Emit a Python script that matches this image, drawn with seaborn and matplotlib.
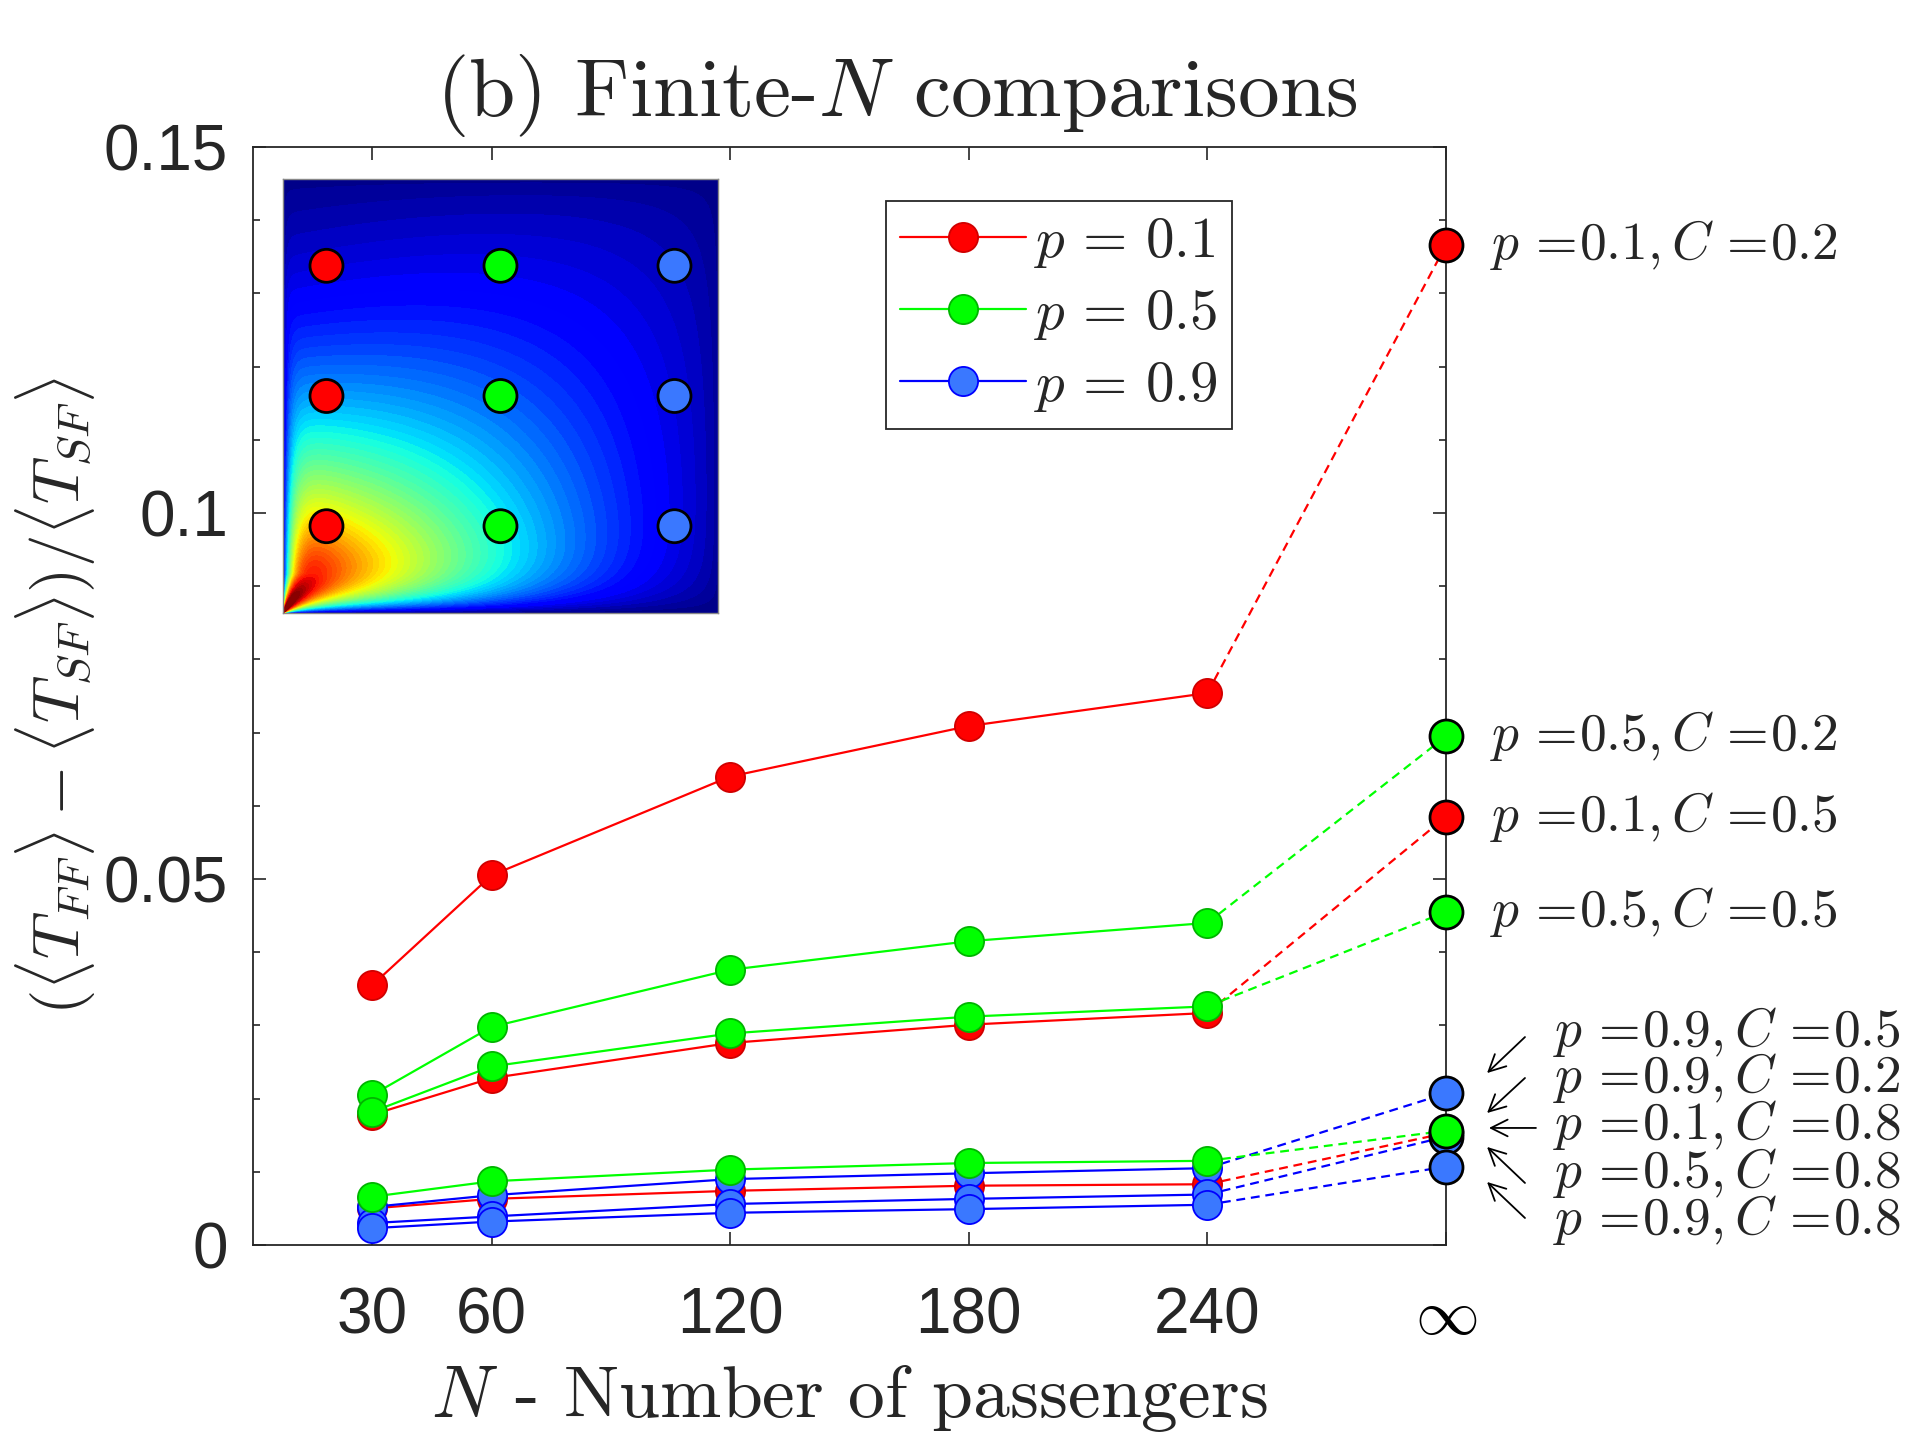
import numpy as np
import pandas as pd
import matplotlib
matplotlib.use("Agg")
import matplotlib.pyplot as plt
import seaborn as sns
from matplotlib.lines import Line2D
from matplotlib.ticker import MultipleLocator, FixedLocator

# ---------------- data ----------------
N_finite = [30, 60, 120, 180, 240]
N_inf_pos = 300                      # axis position used for N -> infinity
N_tick_labels = ['30', '60', '120', '180', '240', r'$\infty$']
p_values = [0.1, 0.5, 0.9]
C_values = [0.2, 0.5, 0.8]

# values at N = 30, 60, 120, 180, 240 and N -> infinity
p01_C02 = [0.0355, 0.0505, 0.0640, 0.0709, 0.0754, 0.1366]
p01_C05 = [0.0178, 0.0228, 0.0276, 0.0301, 0.0317, 0.0585]
p01_C08 = [0.0050, 0.0063, 0.0074, 0.0081, 0.0083, 0.0153]
p05_C02 = [0.0205, 0.0298, 0.0376, 0.0415, 0.0440, 0.0695]
p05_C05 = [0.0182, 0.0244, 0.0289, 0.0312, 0.0326, 0.0455]
p05_C08 = [0.0066, 0.0087, 0.0103, 0.0112, 0.0115, 0.0156]
p09_C02 = [0.0052, 0.0068, 0.0090, 0.0098, 0.0105, 0.0207]
p09_C05 = [0.0030, 0.0039, 0.0056, 0.0063, 0.0069, 0.0148]
p09_C08 = [0.0023, 0.0032, 0.0044, 0.0049, 0.0055, 0.0107]

# inset colour map: levels (0..1 of the jet scale) at (p, C)
inset_p = [0.1, 0.5, 0.9, 0.1, 0.5, 0.9, 0.1, 0.5, 0.9,
           0.04, 0.06, 0.08, 0.15, 0.18, 0.25, 0.32, 0.4, 0.1, 0.1, 0.1,
           0.3, 0.7, 0.3, 0.7, 0.2, 0.4, 0.6, 0.5, 0.95, 0.95]
inset_C = [0.2, 0.2, 0.2, 0.5, 0.5, 0.5, 0.8, 0.8, 0.8,
           0.07, 0.10, 0.14, 0.10, 0.2, 0.2, 0.2, 0.2, 0.27, 0.33, 0.4,
           0.35, 0.35, 0.65, 0.65, 0.4, 0.1, 0.1, 0.95, 0.5, 0.95]
inset_level = [0.68, 0.35, 0.10, 0.29, 0.23, 0.074, 0.077, 0.078, 0.053,
               1.0, 0.93, 0.86, 0.78, 0.62, 0.52, 0.44, 0.39, 0.6, 0.5, 0.39,
               0.37, 0.24, 0.2, 0.15, 0.36, 0.42, 0.32, 0.04, 0.05, 0.02]

series = {
    (0.1, 0.2): p01_C02, (0.1, 0.5): p01_C05, (0.1, 0.8): p01_C08,
    (0.5, 0.2): p05_C02, (0.5, 0.5): p05_C05, (0.5, 0.8): p05_C08,
    (0.9, 0.2): p09_C02, (0.9, 0.5): p09_C05, (0.9, 0.8): p09_C08,
}
N_all = N_finite + [N_inf_pos]
rows = []
for (p, C), vals in series.items():
    for n, v in zip(N_all, vals):
        rows.append(dict(N=n, value=v, p=p, C=C))
df = pd.DataFrame(rows)

line_color = {0.1: '#FF0000', 0.5: '#00FF00', 0.9: '#0000FF'}
face_color = {0.1: '#FF0000', 0.5: '#00FF00', 0.9: '#3A78FF'}
edge_color = {0.1: '#D00000', 0.5: '#00B400', 0.9: '#0000FF'}

# ---------------- style ----------------
sns.set_theme(style='ticks')
plt.rcParams['font.family'] = ['Liberation Sans', 'DejaVu Sans']
plt.rcParams['mathtext.fontset'] = 'cm'
plt.rcParams['axes.unicode_minus'] = False
dark = '#262626'

fig = plt.figure(figsize=(19.25, 14.44), dpi=100)
ax = fig.add_axes([0.13143, 0.13781, 0.61974, 0.76039])

order = [0.1, 0.9, 0.5]
for k, p in enumerate(order):
    sub = df[(df.p == p) & (df.N < N_inf_pos)]
    sns.lineplot(data=sub, x='N', y='value', units='C', estimator=None,
                 color=line_color[p], marker='o', markersize=21,
                 markerfacecolor=face_color[p], markeredgecolor=edge_color[p],
                 markeredgewidth=1.3, linewidth=1.6, ax=ax, legend=False,
                 zorder=3 + 0.1 * k)
    sub2 = df[(df.p == p) & (df.N >= N_finite[-1])]
    sns.lineplot(data=sub2, x='N', y='value', units='C', estimator=None,
                 color=line_color[p], linestyle=(0, (4, 2.6)), linewidth=1.6,
                 ax=ax, legend=False, zorder=2.5)
for k, p in enumerate(order):
    sub3 = df[(df.p == p) & (df.N == N_inf_pos)]
    sns.scatterplot(data=sub3, x='N', y='value', color=face_color[p],
                    edgecolor='black', linewidth=2.0, s=33 ** 2 * 0.5184,
                    ax=ax, legend=False, zorder=6 + 0.1 * k, clip_on=False)

ax.set_xlim(0, N_inf_pos)
ax.set_ylim(0, 0.15)
ax.xaxis.set_major_locator(FixedLocator(N_all))
ax.set_xticklabels(N_tick_labels)
ax.yaxis.set_major_locator(FixedLocator([0, 0.05, 0.1, 0.15]))
ax.set_yticklabels(['0', '0.05', '0.1', '0.15'])
ax.yaxis.set_minor_locator(MultipleLocator(0.01))
ax.tick_params(axis='both', which='both', direction='in', top=True, right=True,
               color=dark, labelcolor=dark, width=1.2)
ax.tick_params(axis='both', which='major', length=9.5, labelsize=46)
ax.tick_params(axis='y', which='major', pad=18)
ax.tick_params(axis='x', which='major', pad=30)
ax.tick_params(axis='y', which='minor', length=5)
for t in ax.get_xticklabels()[-1:]:
    t.set_fontsize(46)
    t.set_color('black')
for s in ax.spines.values():
    s.set_color(dark)
    s.set_linewidth(1.3)
    s.set_visible(True)

ax.set_xlabel(r'$N$ - Number of passengers', family=['cmr10', 'DejaVu Sans'],
              fontsize=53, labelpad=12)
ax.set_ylabel(r'$(\langle T_{FF}\rangle-\langle T_{SF}\rangle)/\langle T_{SF}\rangle$',
              fontsize=47, labelpad=4)
fig.text(0.466, 0.920, r'(b) Finite-$N$ comparisons', family=['cmr10', 'DejaVu Sans'],
         fontsize=60, ha='center', va='baseline')

# legend
handles = [Line2D([], [], color=line_color[p], marker='o', markersize=21,
                  markerfacecolor=face_color[p], markeredgecolor=edge_color[p],
                  markeredgewidth=1.3, linewidth=1.6) for p in p_values]
labels = [rf'$p\,=\,{p}$' for p in p_values]
leg = ax.legend(handles, labels, loc='upper left', bbox_to_anchor=(0.5306, 0.9508),
                borderaxespad=0, fontsize=41, handlelength=2.2, handletextpad=0.15,
                labelspacing=0.3, borderpad=0.25, fancybox=False, framealpha=1,
                edgecolor=dark)
leg.get_frame().set_linewidth(1.3)

# labels at N -> infinity
lab_fs = 38.5
for (p, C) in [(0.1, 0.2), (0.5, 0.2), (0.1, 0.5), (0.5, 0.5)]:
    ax.annotate(rf'$p\,=\!{p},C\,=\!{C}$', xy=(N_inf_pos, series[(p, C)][-1]),
                xytext=(44, 0), textcoords='offset pixels', fontsize=lab_fs,
                va='center', ha='left', annotation_clip=False)

low_labels = [(0.9, 0.5), (0.9, 0.2), (0.1, 0.8), (0.5, 0.8), (0.9, 0.8)]
low_y = [0.194, 0.152, 0.109, 0.0656, 0.0228]
for (p, C), y in zip(low_labels, low_y):
    ax.text(1.0895, y, rf'$p\,=\!{p},C\,=\!{C}$', transform=ax.transAxes,
            fontsize=lab_fs, va='center', ha='left')
arrows = [((1.0662, 0.1894), (1.0344, 0.1566)),
          ((1.0662, 0.1521), (1.0344, 0.1202)),
          ((1.0754, 0.1066), (1.0360, 0.1066)),
          ((1.0662, 0.0565), (1.0344, 0.0893)),
          ((1.0662, 0.0246), (1.0344, 0.0574))]
for tail, head in arrows:
    ax.annotate('', xy=head, xytext=tail, xycoords='axes fraction',
                textcoords='axes fraction', annotation_clip=False,
                arrowprops=dict(arrowstyle='->', color='black', lw=1.3,
                                mutation_scale=30, shrinkA=0, shrinkB=0))

# ---------------- inset map over (p, C) ----------------
def edge_factor(P, C):
    w1 = 0.05 * (1 - np.exp(-P / 0.07)) + 0.01 * P + 1e-9
    w2 = np.minimum(0.28 * C, np.maximum(0.028 - 0.03 * C, 0.006)) + 1e-9
    return (1 - np.exp(-C / w1)) * (1 - np.exp(-P / w2))

def basis(P, C):
    return np.stack([np.ones_like(P), P, C, P ** 2, C ** 2, P * C], axis=-1)

ip = np.array(inset_p)
ic = np.array(inset_C)
il = np.array(inset_level)
ALPHA, BETA = 0.35, 0.45
target = (np.log(il / edge_factor(ip, ic))
          - ALPHA * np.log(1 - ip) - BETA * np.log(1 - ic))
coef, *_ = np.linalg.lstsq(basis(ip, ic), target, rcond=None)

g = np.linspace(0.0005, 0.9995, 500)
P, Cg = np.meshgrid(g, g)
F = (edge_factor(P, Cg) * (1 - P) ** ALPHA * (1 - Cg) ** BETA
     * np.exp(basis(P, Cg) @ coef))

ins = fig.add_axes([0.14701, 0.57548, 0.22597, 0.30055])
ins.contourf(P, Cg, np.clip(F, 0, 1.0), levels=np.linspace(0, 1.0, 60), cmap='jet')
pts = pd.DataFrame([(p, C) for p in p_values for C in C_values], columns=['p', 'C'])
sns.scatterplot(data=pts, x='p', y='C', hue='p', palette=face_color,
                edgecolor='black', linewidth=2.0, s=33 ** 2 * 0.5184, ax=ins,
                legend=False, zorder=5)
ins.set_xlim(0, 1)
ins.set_ylim(0, 1)
ins.set_xticks([])
ins.set_yticks([])
ins.set_xlabel('')
ins.set_ylabel('')
for s_ in ins.spines.values():
    s_.set_color('#888888')
    s_.set_linewidth(1.0)

fig.savefig('out.png', dpi=100)
